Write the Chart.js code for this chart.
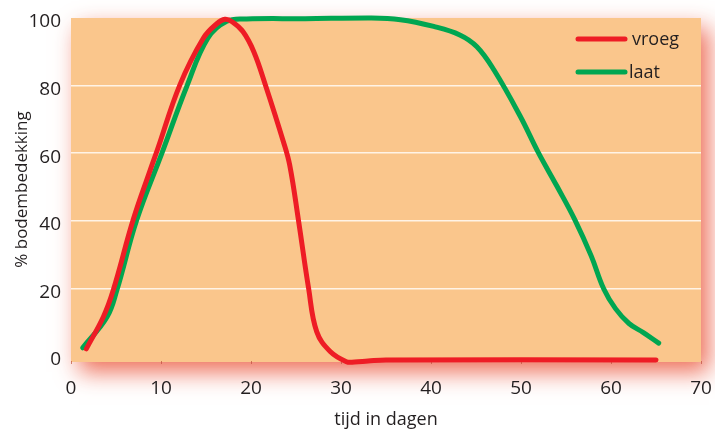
<!DOCTYPE html>
<html>
<head>
<meta charset="utf-8">
<script src="https://cdn.jsdelivr.net/npm/chart.js@4"></script>
<style>
  html, body { margin: 0; padding: 0; background: #fff; }
  canvas { display: block; }
</style>
</head>
<body>
<canvas id="grafiek" width="715" height="431"></canvas>
<script>
// data
const xTicks = [0, 10, 20, 30, 40, 50, 60, 70];
const yTicks = [0, 20, 40, 60, 80, 100];

const vroegDagen = [1.7, 3.6, 4.7, 6.9, 8.8, 9.6, 12.1, 14.7, 16.2, 17.1, 17.9, 19.1, 20.3, 21.6, 23.6, 24.3, 25.3, 26.4, 27.3, 28.8, 30.6, 31.5, 33, 35, 65];
const vroegPct  = [2.1, 11.6, 19.5, 40.2, 55.0, 61.0, 80.2, 94.0, 98.3, 99.6, 98.9, 96.0, 90.1, 80.2, 63.4, 56.5, 39.7, 20.0, 7.2, 1.3, -1.7, -1.8, -1.5, -1.2, -1.2];

const laatDagen = [1.3, 4.0, 5.1, 7.3, 10.1, 12.9, 15.2, 17.3, 19.5, 26, 33, 36.6, 40.3, 43.2, 45.1, 47.0, 49.9, 51.9, 54.0, 56.0, 57.8, 59.2, 60.5, 62.0, 63.6, 65.3];
const laatPct  = [2.4, 11.5, 19.5, 40.2, 60.0, 80.0, 94.0, 99.0, 99.7, 99.8, 100, 99.5, 97.5, 95.0, 91.5, 84.6, 71.0, 60.3, 50.2, 40.2, 29.6, 19.8, 14.0, 9.6, 6.9, 3.8];

const toPoints = (xs, ys) => xs.map((x, i) => ({ x: x, y: ys[i] }));

Chart.defaults.font.family = "'Open Sans', sans-serif";
Chart.defaults.color = "#231f20";

// oranje vlak met rode schaduw
const achtergrond = {
  id: "achtergrond",
  beforeDraw(chart) {
    const { ctx, chartArea: a } = chart;
    ctx.save();
    ctx.shadowColor = "rgba(236, 96, 72, 0.9)";
    ctx.shadowBlur = 22;
    ctx.shadowOffsetX = 8;
    ctx.shadowOffsetY = 10;
    ctx.fillStyle = "#fac68c";
    ctx.fillRect(a.left, a.top, a.right - a.left, a.bottom - a.top + 1);
    ctx.restore();
  }
};

// legenda rechtsboven in het vlak
const legenda = {
  id: "legenda",
  afterDatasetsDraw(chart) {
    const ctx = chart.ctx;
    ctx.save();
    ctx.font = "18px 'Open Sans', sans-serif";
    ctx.textBaseline = "middle";
    ctx.lineCap = "round";
    ctx.lineWidth = 5;
    chart.data.datasets.forEach((ds, i) => {
      const y = 39 + i * 33;
      ctx.strokeStyle = ds.borderColor;
      ctx.beginPath();
      ctx.moveTo(578, y);
      ctx.lineTo(625, y);
      ctx.stroke();
      ctx.fillStyle = "#231f20";
      ctx.fillText(ds.label, i === 0 ? 632 : 629, y + 1);
    });
    ctx.restore();
  }
};

new Chart(document.getElementById("grafiek"), {
  type: "line",
  data: {
    datasets: [{
      label: "vroeg",
      data: toPoints(vroegDagen, vroegPct),
      borderColor: "#ee1c25",
      borderWidth: 5,
      borderCapStyle: "round",
      pointRadius: 0,
      tension: 0.4,
      clip: false
    }, {
      label: "laat",
      data: toPoints(laatDagen, laatPct),
      borderColor: "#00a651",
      borderWidth: 5,
      borderCapStyle: "round",
      pointRadius: 0,
      tension: 0.4,
      clip: false
    }]
  },
  options: {
    responsive: false,
    animation: false,
    layout: { padding: { top: 18, right: 14, left: 0, bottom: 0 } },
    plugins: {
      legend: { display: false },
      tooltip: { enabled: false }
    },
    scales: {
      x: {
        type: "linear",
        min: 0,
        max: 70,
        afterBuildTicks: axis => { axis.ticks = xTicks.map(v => ({ value: v })); },
        afterFit: axis => { axis.height = 70; axis.paddingLeft = 0; axis.paddingRight = 0; },
        border: { display: false },
        grid: { drawOnChartArea: false, tickLength: 3, color: "rgba(190, 80, 60, 0.7)" },
        ticks: { font: { size: 19 }, padding: 13, maxRotation: 0 },
        title: { display: true, text: "tijd in dagen", font: { size: 18 }, padding: { top: 0, bottom: 0 } }
      },
      y: {
        min: -1.5,
        max: 100,
        afterBuildTicks: axis => { axis.ticks = yTicks.map(v => ({ value: v })); },
        afterFit: axis => { axis.width = 71; axis.paddingTop = 0; axis.paddingBottom = 0; },
        border: { display: false },
        grid: {
          drawTicks: false,
          lineWidth: 1.5,
          color: c => (c.tick && c.tick.value > 0 && c.tick.value < 100) ? "rgba(255, 246, 235, 0.95)" : "rgba(0,0,0,0)"
        },
        ticks: { font: { size: 19 }, padding: 10, labelOffset: 4 },
        title: { display: true, text: "% bodembedekking", font: { size: 17 }, padding: { top: 12, bottom: 0 } }
      }
    }
  },
  plugins: [achtergrond, legenda]
});
</script>
</body>
</html>
